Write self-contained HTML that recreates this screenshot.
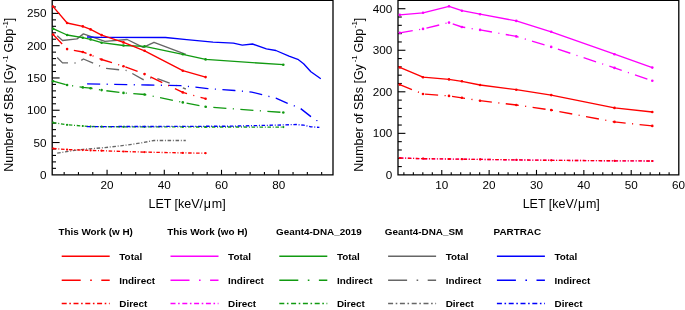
<!DOCTYPE html><html><head><meta charset="utf-8"><style>html,body{margin:0;padding:0;background:#fff;overflow:hidden}svg{display:block;filter:grayscale(0.01)}</style></head><body><svg width="685" height="310" viewBox="0 0 685 310">
<style>text{font-family:"Liberation Sans",sans-serif;fill:#000}.tl{font-size:11.7px}.at{font-size:12.5px}.sup{font-size:7.8px}.lg{font-size:9.9px;font-weight:bold}</style>
<rect width="685" height="310" fill="#fff"/>
<defs><clipPath id="cl"><rect x="50.7" y="0.4" width="282.3" height="174.4"/></clipPath><clipPath id="cr"><rect x="396.5" y="0.4" width="282.29999999999995" height="174.5"/></clipPath></defs>
<path d="M52.2 174.8 V0.4 H333.0 V174.8 Z" fill="none" stroke="#000" stroke-width="1.3"/>
<path d="M398.0 174.9 V0.4 H678.8 V174.9 Z" fill="none" stroke="#000" stroke-width="1.3"/>
<text x="46.6" y="178.80" text-anchor="end" class="tl">0</text>
<line x1="52.2" y1="168.34" x2="56.00" y2="168.34" stroke="#000" stroke-width="1.1"/>
<line x1="52.2" y1="161.89" x2="56.00" y2="161.89" stroke="#000" stroke-width="1.1"/>
<line x1="52.2" y1="155.43" x2="56.00" y2="155.43" stroke="#000" stroke-width="1.1"/>
<line x1="52.2" y1="148.98" x2="56.00" y2="148.98" stroke="#000" stroke-width="1.1"/>
<line x1="52.2" y1="142.52" x2="59.60" y2="142.52" stroke="#000" stroke-width="1.1"/>
<text x="46.6" y="146.52" text-anchor="end" class="tl">50</text>
<line x1="52.2" y1="136.06" x2="56.00" y2="136.06" stroke="#000" stroke-width="1.1"/>
<line x1="52.2" y1="129.61" x2="56.00" y2="129.61" stroke="#000" stroke-width="1.1"/>
<line x1="52.2" y1="123.15" x2="56.00" y2="123.15" stroke="#000" stroke-width="1.1"/>
<line x1="52.2" y1="116.70" x2="56.00" y2="116.70" stroke="#000" stroke-width="1.1"/>
<line x1="52.2" y1="110.24" x2="59.60" y2="110.24" stroke="#000" stroke-width="1.1"/>
<text x="46.6" y="114.24" text-anchor="end" class="tl">100</text>
<line x1="52.2" y1="103.78" x2="56.00" y2="103.78" stroke="#000" stroke-width="1.1"/>
<line x1="52.2" y1="97.33" x2="56.00" y2="97.33" stroke="#000" stroke-width="1.1"/>
<line x1="52.2" y1="90.87" x2="56.00" y2="90.87" stroke="#000" stroke-width="1.1"/>
<line x1="52.2" y1="84.42" x2="56.00" y2="84.42" stroke="#000" stroke-width="1.1"/>
<line x1="52.2" y1="77.96" x2="59.60" y2="77.96" stroke="#000" stroke-width="1.1"/>
<text x="46.6" y="81.96" text-anchor="end" class="tl">150</text>
<line x1="52.2" y1="71.50" x2="56.00" y2="71.50" stroke="#000" stroke-width="1.1"/>
<line x1="52.2" y1="65.05" x2="56.00" y2="65.05" stroke="#000" stroke-width="1.1"/>
<line x1="52.2" y1="58.59" x2="56.00" y2="58.59" stroke="#000" stroke-width="1.1"/>
<line x1="52.2" y1="52.14" x2="56.00" y2="52.14" stroke="#000" stroke-width="1.1"/>
<line x1="52.2" y1="45.68" x2="59.60" y2="45.68" stroke="#000" stroke-width="1.1"/>
<text x="46.6" y="49.68" text-anchor="end" class="tl">200</text>
<line x1="52.2" y1="39.22" x2="56.00" y2="39.22" stroke="#000" stroke-width="1.1"/>
<line x1="52.2" y1="32.77" x2="56.00" y2="32.77" stroke="#000" stroke-width="1.1"/>
<line x1="52.2" y1="26.31" x2="56.00" y2="26.31" stroke="#000" stroke-width="1.1"/>
<line x1="52.2" y1="19.86" x2="56.00" y2="19.86" stroke="#000" stroke-width="1.1"/>
<line x1="52.2" y1="13.40" x2="59.60" y2="13.40" stroke="#000" stroke-width="1.1"/>
<text x="46.6" y="17.40" text-anchor="end" class="tl">250</text>
<line x1="52.2" y1="6.94" x2="56.00" y2="6.94" stroke="#000" stroke-width="1.1"/>
<line x1="52.2" y1="0.49" x2="56.00" y2="0.49" stroke="#000" stroke-width="1.1"/>
<text x="392.2" y="178.90" text-anchor="end" class="tl">0</text>
<line x1="398.0" y1="166.59" x2="401.80" y2="166.59" stroke="#000" stroke-width="1.1"/>
<line x1="398.0" y1="158.28" x2="401.80" y2="158.28" stroke="#000" stroke-width="1.1"/>
<line x1="398.0" y1="149.97" x2="401.80" y2="149.97" stroke="#000" stroke-width="1.1"/>
<line x1="398.0" y1="141.66" x2="401.80" y2="141.66" stroke="#000" stroke-width="1.1"/>
<line x1="398.0" y1="133.35" x2="405.40" y2="133.35" stroke="#000" stroke-width="1.1"/>
<text x="392.2" y="137.35" text-anchor="end" class="tl">100</text>
<line x1="398.0" y1="125.04" x2="401.80" y2="125.04" stroke="#000" stroke-width="1.1"/>
<line x1="398.0" y1="116.73" x2="401.80" y2="116.73" stroke="#000" stroke-width="1.1"/>
<line x1="398.0" y1="108.42" x2="401.80" y2="108.42" stroke="#000" stroke-width="1.1"/>
<line x1="398.0" y1="100.11" x2="401.80" y2="100.11" stroke="#000" stroke-width="1.1"/>
<line x1="398.0" y1="91.80" x2="405.40" y2="91.80" stroke="#000" stroke-width="1.1"/>
<text x="392.2" y="95.80" text-anchor="end" class="tl">200</text>
<line x1="398.0" y1="83.49" x2="401.80" y2="83.49" stroke="#000" stroke-width="1.1"/>
<line x1="398.0" y1="75.18" x2="401.80" y2="75.18" stroke="#000" stroke-width="1.1"/>
<line x1="398.0" y1="66.88" x2="401.80" y2="66.88" stroke="#000" stroke-width="1.1"/>
<line x1="398.0" y1="58.57" x2="401.80" y2="58.57" stroke="#000" stroke-width="1.1"/>
<line x1="398.0" y1="50.26" x2="405.40" y2="50.26" stroke="#000" stroke-width="1.1"/>
<text x="392.2" y="54.26" text-anchor="end" class="tl">300</text>
<line x1="398.0" y1="41.95" x2="401.80" y2="41.95" stroke="#000" stroke-width="1.1"/>
<line x1="398.0" y1="33.64" x2="401.80" y2="33.64" stroke="#000" stroke-width="1.1"/>
<line x1="398.0" y1="25.33" x2="401.80" y2="25.33" stroke="#000" stroke-width="1.1"/>
<line x1="398.0" y1="17.02" x2="401.80" y2="17.02" stroke="#000" stroke-width="1.1"/>
<line x1="398.0" y1="8.71" x2="405.40" y2="8.71" stroke="#000" stroke-width="1.1"/>
<text x="392.2" y="12.71" text-anchor="end" class="tl">400</text>
<line x1="398.0" y1="0.40" x2="401.80" y2="0.40" stroke="#000" stroke-width="1.1"/>
<line x1="64.16" y1="174.8" x2="64.16" y2="172.10" stroke="#000" stroke-width="1.1"/>
<line x1="78.46" y1="174.8" x2="78.46" y2="172.10" stroke="#000" stroke-width="1.1"/>
<line x1="92.77" y1="174.8" x2="92.77" y2="172.10" stroke="#000" stroke-width="1.1"/>
<line x1="107.07" y1="174.8" x2="107.07" y2="169.80" stroke="#000" stroke-width="1.1"/>
<text x="107.07" y="188.8" text-anchor="middle" class="tl">20</text>
<line x1="121.38" y1="174.8" x2="121.38" y2="172.10" stroke="#000" stroke-width="1.1"/>
<line x1="135.68" y1="174.8" x2="135.68" y2="172.10" stroke="#000" stroke-width="1.1"/>
<line x1="149.99" y1="174.8" x2="149.99" y2="172.10" stroke="#000" stroke-width="1.1"/>
<line x1="164.29" y1="174.8" x2="164.29" y2="169.80" stroke="#000" stroke-width="1.1"/>
<text x="164.29" y="188.8" text-anchor="middle" class="tl">40</text>
<line x1="178.59" y1="174.8" x2="178.59" y2="172.10" stroke="#000" stroke-width="1.1"/>
<line x1="192.90" y1="174.8" x2="192.90" y2="172.10" stroke="#000" stroke-width="1.1"/>
<line x1="207.21" y1="174.8" x2="207.21" y2="172.10" stroke="#000" stroke-width="1.1"/>
<line x1="221.51" y1="174.8" x2="221.51" y2="169.80" stroke="#000" stroke-width="1.1"/>
<text x="221.51" y="188.8" text-anchor="middle" class="tl">60</text>
<line x1="235.81" y1="174.8" x2="235.81" y2="172.10" stroke="#000" stroke-width="1.1"/>
<line x1="250.12" y1="174.8" x2="250.12" y2="172.10" stroke="#000" stroke-width="1.1"/>
<line x1="264.43" y1="174.8" x2="264.43" y2="172.10" stroke="#000" stroke-width="1.1"/>
<line x1="278.73" y1="174.8" x2="278.73" y2="169.80" stroke="#000" stroke-width="1.1"/>
<text x="278.73" y="188.8" text-anchor="middle" class="tl">80</text>
<line x1="293.04" y1="174.8" x2="293.04" y2="172.10" stroke="#000" stroke-width="1.1"/>
<line x1="307.34" y1="174.8" x2="307.34" y2="172.10" stroke="#000" stroke-width="1.1"/>
<line x1="321.65" y1="174.8" x2="321.65" y2="172.10" stroke="#000" stroke-width="1.1"/>
<line x1="403.88" y1="174.9" x2="403.88" y2="172.20" stroke="#000" stroke-width="1.1"/>
<line x1="413.35" y1="174.9" x2="413.35" y2="172.20" stroke="#000" stroke-width="1.1"/>
<line x1="422.83" y1="174.9" x2="422.83" y2="172.20" stroke="#000" stroke-width="1.1"/>
<line x1="432.30" y1="174.9" x2="432.30" y2="172.20" stroke="#000" stroke-width="1.1"/>
<line x1="441.77" y1="174.9" x2="441.77" y2="169.90" stroke="#000" stroke-width="1.1"/>
<text x="441.77" y="188.8" text-anchor="middle" class="tl">10</text>
<line x1="451.24" y1="174.9" x2="451.24" y2="172.20" stroke="#000" stroke-width="1.1"/>
<line x1="460.71" y1="174.9" x2="460.71" y2="172.20" stroke="#000" stroke-width="1.1"/>
<line x1="470.19" y1="174.9" x2="470.19" y2="172.20" stroke="#000" stroke-width="1.1"/>
<line x1="479.66" y1="174.9" x2="479.66" y2="172.20" stroke="#000" stroke-width="1.1"/>
<line x1="489.13" y1="174.9" x2="489.13" y2="169.90" stroke="#000" stroke-width="1.1"/>
<text x="489.13" y="188.8" text-anchor="middle" class="tl">20</text>
<line x1="498.60" y1="174.9" x2="498.60" y2="172.20" stroke="#000" stroke-width="1.1"/>
<line x1="508.07" y1="174.9" x2="508.07" y2="172.20" stroke="#000" stroke-width="1.1"/>
<line x1="517.55" y1="174.9" x2="517.55" y2="172.20" stroke="#000" stroke-width="1.1"/>
<line x1="527.02" y1="174.9" x2="527.02" y2="172.20" stroke="#000" stroke-width="1.1"/>
<line x1="536.49" y1="174.9" x2="536.49" y2="169.90" stroke="#000" stroke-width="1.1"/>
<text x="536.49" y="188.8" text-anchor="middle" class="tl">30</text>
<line x1="545.96" y1="174.9" x2="545.96" y2="172.20" stroke="#000" stroke-width="1.1"/>
<line x1="555.43" y1="174.9" x2="555.43" y2="172.20" stroke="#000" stroke-width="1.1"/>
<line x1="564.91" y1="174.9" x2="564.91" y2="172.20" stroke="#000" stroke-width="1.1"/>
<line x1="574.38" y1="174.9" x2="574.38" y2="172.20" stroke="#000" stroke-width="1.1"/>
<line x1="583.85" y1="174.9" x2="583.85" y2="169.90" stroke="#000" stroke-width="1.1"/>
<text x="583.85" y="188.8" text-anchor="middle" class="tl">40</text>
<line x1="593.32" y1="174.9" x2="593.32" y2="172.20" stroke="#000" stroke-width="1.1"/>
<line x1="602.79" y1="174.9" x2="602.79" y2="172.20" stroke="#000" stroke-width="1.1"/>
<line x1="612.27" y1="174.9" x2="612.27" y2="172.20" stroke="#000" stroke-width="1.1"/>
<line x1="621.74" y1="174.9" x2="621.74" y2="172.20" stroke="#000" stroke-width="1.1"/>
<line x1="631.21" y1="174.9" x2="631.21" y2="169.90" stroke="#000" stroke-width="1.1"/>
<text x="631.21" y="188.8" text-anchor="middle" class="tl">50</text>
<line x1="640.68" y1="174.9" x2="640.68" y2="172.20" stroke="#000" stroke-width="1.1"/>
<line x1="650.15" y1="174.9" x2="650.15" y2="172.20" stroke="#000" stroke-width="1.1"/>
<line x1="659.63" y1="174.9" x2="659.63" y2="172.20" stroke="#000" stroke-width="1.1"/>
<line x1="669.10" y1="174.9" x2="669.10" y2="172.20" stroke="#000" stroke-width="1.1"/>
<text x="678.57" y="188.8" text-anchor="middle" class="tl">60</text>
<g clip-path="url(#cl)">
<polyline points="57.2,153.1 62.5,152.3 77.0,150.0 83.4,149.3 104.9,147.6 127.2,145.0 143.2,142.6 154.0,140.5 185.8,140.5" fill="none" stroke="#666666" stroke-width="1.35" stroke-dasharray="3.5 1.75 0.95 1.75" stroke-linejoin="round"/>
<polyline points="57.2,57.5 62.5,62.9 77.0,63.0 83.4,59.0 104.9,68.2 127.2,70.6 143.2,79.6 154.0,77.4 185.8,89.0" fill="none" stroke="#666666" stroke-width="1.35" stroke-dasharray="13.1 6.45 1.1 6.45" stroke-linejoin="round"/>
<polyline points="57.2,35.8 62.5,40.5 77.0,38.9 83.4,33.9 104.9,41.4 127.2,39.5 143.2,47.4 154.0,42.3 185.8,54.3" fill="none" stroke="#666666" stroke-width="1.35" stroke-linejoin="round"/>
<polyline points="53.1,122.6 67.1,124.8 82.8,126.0 90.6,126.5 101.6,126.7 123.5,126.8 144.6,126.8 182.8,126.9 205.6,127.0 283.3,127.1" fill="none" stroke="#109a10" stroke-width="1.35" stroke-dasharray="3.5 1.75 0.95 1.75" stroke-linejoin="round"/>
<circle cx="53.1" cy="122.6" r="1.1" fill="#109a10"/>
<circle cx="67.1" cy="124.8" r="1.1" fill="#109a10"/>
<circle cx="82.8" cy="126.0" r="1.1" fill="#109a10"/>
<circle cx="90.6" cy="126.5" r="1.1" fill="#109a10"/>
<circle cx="101.6" cy="126.7" r="1.1" fill="#109a10"/>
<circle cx="123.5" cy="126.8" r="1.1" fill="#109a10"/>
<circle cx="144.6" cy="126.8" r="1.1" fill="#109a10"/>
<circle cx="182.8" cy="126.9" r="1.1" fill="#109a10"/>
<circle cx="205.6" cy="127.0" r="1.1" fill="#109a10"/>
<circle cx="283.3" cy="127.1" r="1.1" fill="#109a10"/>
<polyline points="53.1,81.2 67.1,85.0 82.8,87.4 90.6,88.2 101.6,90.1 123.5,92.9 144.6,94.5 182.8,102.4 205.6,106.8 283.3,112.5" fill="none" stroke="#109a10" stroke-width="1.35" stroke-dasharray="13.1 6.45 1.1 6.45" stroke-linejoin="round"/>
<circle cx="53.1" cy="81.2" r="1.3" fill="#109a10"/>
<circle cx="67.1" cy="85.0" r="1.3" fill="#109a10"/>
<circle cx="82.8" cy="87.4" r="1.3" fill="#109a10"/>
<circle cx="90.6" cy="88.2" r="1.3" fill="#109a10"/>
<circle cx="101.6" cy="90.1" r="1.3" fill="#109a10"/>
<circle cx="123.5" cy="92.9" r="1.3" fill="#109a10"/>
<circle cx="144.6" cy="94.5" r="1.3" fill="#109a10"/>
<circle cx="182.8" cy="102.4" r="1.3" fill="#109a10"/>
<circle cx="205.6" cy="106.8" r="1.3" fill="#109a10"/>
<circle cx="283.3" cy="112.5" r="1.3" fill="#109a10"/>
<polyline points="53.1,28.7 67.1,35.0 82.8,37.7 90.6,39.4 101.6,42.7 123.5,45.5 144.6,46.4 182.8,54.3 205.6,59.4 283.3,64.7" fill="none" stroke="#109a10" stroke-width="1.35" stroke-linejoin="round"/>
<circle cx="53.1" cy="28.7" r="1.3" fill="#109a10"/>
<circle cx="67.1" cy="35.0" r="1.3" fill="#109a10"/>
<circle cx="82.8" cy="37.7" r="1.3" fill="#109a10"/>
<circle cx="90.6" cy="39.4" r="1.3" fill="#109a10"/>
<circle cx="101.6" cy="42.7" r="1.3" fill="#109a10"/>
<circle cx="123.5" cy="45.5" r="1.3" fill="#109a10"/>
<circle cx="144.6" cy="46.4" r="1.3" fill="#109a10"/>
<circle cx="182.8" cy="54.3" r="1.3" fill="#109a10"/>
<circle cx="205.6" cy="59.4" r="1.3" fill="#109a10"/>
<circle cx="283.3" cy="64.7" r="1.3" fill="#109a10"/>
<polyline points="86.7,126.6 150.0,126.5 230.0,126.2 284.6,124.9 296.3,124.5 303.6,125.2 310.9,126.8 319.4,127.4" fill="none" stroke="#0000ff" stroke-width="1.35" stroke-dasharray="3.5 1.75 0.95 1.75" stroke-linejoin="round"/>
<polyline points="87.1,83.9 148.0,85.0 180.9,85.7 195.5,87.1 207.9,88.6 234.9,90.5 251.8,92.1 262.0,94.6 275.9,98.2 287.6,103.4 293.4,105.5 300.7,108.6 310.9,116.6 316.5,120.3 320.8,122.5" fill="none" stroke="#0000ff" stroke-width="1.35" stroke-dasharray="13.1 6.45 1.1 6.45" stroke-linejoin="round"/>
<polyline points="87.0,37.0 100.0,37.4 165.5,37.5 186.7,39.7 213.0,42.2 233.4,43.1 242.3,45.1 252.5,44.0 266.4,48.8 275.9,50.5 289.0,56.1 297.8,59.3 303.6,63.7 310.9,71.7 320.8,78.7" fill="none" stroke="#0000ff" stroke-width="1.35" stroke-linejoin="round"/>
<polyline points="53.1,148.5 67.1,149.6 82.8,150.1 90.6,150.4 101.6,150.7 123.5,151.5 144.6,152.1 182.8,152.9 205.6,153.2" fill="none" stroke="#ff0000" stroke-width="1.35" stroke-dasharray="3.5 1.75 0.95 1.75" stroke-linejoin="round"/>
<circle cx="53.1" cy="148.5" r="1.1" fill="#ff0000"/>
<circle cx="67.1" cy="149.6" r="1.1" fill="#ff0000"/>
<circle cx="82.8" cy="150.1" r="1.1" fill="#ff0000"/>
<circle cx="90.6" cy="150.4" r="1.1" fill="#ff0000"/>
<circle cx="101.6" cy="150.7" r="1.1" fill="#ff0000"/>
<circle cx="123.5" cy="151.5" r="1.1" fill="#ff0000"/>
<circle cx="144.6" cy="152.1" r="1.1" fill="#ff0000"/>
<circle cx="182.8" cy="152.9" r="1.1" fill="#ff0000"/>
<circle cx="205.6" cy="153.2" r="1.1" fill="#ff0000"/>
<polyline points="53.1,34.5 67.1,49.1 82.8,52.0 90.6,55.0 101.6,59.5 123.5,66.2 144.6,74.1 182.8,92.4 205.6,98.7" fill="none" stroke="#ff0000" stroke-width="1.35" stroke-dasharray="13.1 6.45 1.1 6.45" stroke-linejoin="round"/>
<circle cx="53.1" cy="34.5" r="1.3" fill="#ff0000"/>
<circle cx="67.1" cy="49.1" r="1.3" fill="#ff0000"/>
<circle cx="82.8" cy="52.0" r="1.3" fill="#ff0000"/>
<circle cx="90.6" cy="55.0" r="1.3" fill="#ff0000"/>
<circle cx="101.6" cy="59.5" r="1.3" fill="#ff0000"/>
<circle cx="123.5" cy="66.2" r="1.3" fill="#ff0000"/>
<circle cx="144.6" cy="74.1" r="1.3" fill="#ff0000"/>
<circle cx="182.8" cy="92.4" r="1.3" fill="#ff0000"/>
<circle cx="205.6" cy="98.7" r="1.3" fill="#ff0000"/>
<polyline points="53.1,6.6 67.1,23.0 82.8,26.4 90.6,29.4 101.6,35.1 123.5,42.4 144.6,50.8 182.8,70.7 205.6,77.1" fill="none" stroke="#ff0000" stroke-width="1.35" stroke-linejoin="round"/>
<circle cx="53.1" cy="6.6" r="1.3" fill="#ff0000"/>
<circle cx="67.1" cy="23.0" r="1.3" fill="#ff0000"/>
<circle cx="82.8" cy="26.4" r="1.3" fill="#ff0000"/>
<circle cx="90.6" cy="29.4" r="1.3" fill="#ff0000"/>
<circle cx="101.6" cy="35.1" r="1.3" fill="#ff0000"/>
<circle cx="123.5" cy="42.4" r="1.3" fill="#ff0000"/>
<circle cx="144.6" cy="50.8" r="1.3" fill="#ff0000"/>
<circle cx="182.8" cy="70.7" r="1.3" fill="#ff0000"/>
<circle cx="205.6" cy="77.1" r="1.3" fill="#ff0000"/>
</g>
<g clip-path="url(#cr)">
<polyline points="400.1,158.0 423.3,158.7 449.3,159.0 462.2,159.2 480.4,159.4 516.6,159.9 551.5,160.3 614.8,160.8 652.6,161.0" fill="none" stroke="#ff00ff" stroke-width="1.35" stroke-dasharray="3.5 1.75 0.95 1.75" stroke-linejoin="round"/>
<circle cx="400.1" cy="158.0" r="1.1" fill="#ff00ff"/>
<circle cx="423.3" cy="158.7" r="1.1" fill="#ff00ff"/>
<circle cx="449.3" cy="159.0" r="1.1" fill="#ff00ff"/>
<circle cx="462.2" cy="159.2" r="1.1" fill="#ff00ff"/>
<circle cx="480.4" cy="159.4" r="1.1" fill="#ff00ff"/>
<circle cx="516.6" cy="159.9" r="1.1" fill="#ff00ff"/>
<circle cx="551.5" cy="160.3" r="1.1" fill="#ff00ff"/>
<circle cx="614.8" cy="160.8" r="1.1" fill="#ff00ff"/>
<circle cx="652.6" cy="161.0" r="1.1" fill="#ff00ff"/>
<polyline points="399.8,32.8 423.0,28.9 449.0,22.6 461.9,27.0 480.1,29.9 516.3,36.4 551.2,46.9 614.5,67.9 652.3,80.8" fill="none" stroke="#ff00ff" stroke-width="1.35" stroke-dasharray="13.1 6.45 1.1 6.45" stroke-linejoin="round"/>
<circle cx="399.8" cy="32.8" r="1.3" fill="#ff00ff"/>
<circle cx="423.0" cy="28.9" r="1.3" fill="#ff00ff"/>
<circle cx="449.0" cy="22.6" r="1.3" fill="#ff00ff"/>
<circle cx="461.9" cy="27.0" r="1.3" fill="#ff00ff"/>
<circle cx="480.1" cy="29.9" r="1.3" fill="#ff00ff"/>
<circle cx="516.3" cy="36.4" r="1.3" fill="#ff00ff"/>
<circle cx="551.2" cy="46.9" r="1.3" fill="#ff00ff"/>
<circle cx="614.5" cy="67.9" r="1.3" fill="#ff00ff"/>
<circle cx="652.3" cy="80.8" r="1.3" fill="#ff00ff"/>
<polyline points="399.8,14.9 423.0,12.8 449.0,6.3 461.9,10.7 480.1,14.2 516.3,20.9 551.2,31.8 614.5,54.2 652.3,67.6" fill="none" stroke="#ff00ff" stroke-width="1.35" stroke-linejoin="round"/>
<circle cx="399.8" cy="14.9" r="1.3" fill="#ff00ff"/>
<circle cx="423.0" cy="12.8" r="1.3" fill="#ff00ff"/>
<circle cx="449.0" cy="6.3" r="1.3" fill="#ff00ff"/>
<circle cx="461.9" cy="10.7" r="1.3" fill="#ff00ff"/>
<circle cx="480.1" cy="14.2" r="1.3" fill="#ff00ff"/>
<circle cx="516.3" cy="20.9" r="1.3" fill="#ff00ff"/>
<circle cx="551.2" cy="31.8" r="1.3" fill="#ff00ff"/>
<circle cx="614.5" cy="54.2" r="1.3" fill="#ff00ff"/>
<circle cx="652.3" cy="67.6" r="1.3" fill="#ff00ff"/>
<polyline points="399.8,158.0 423.0,158.7 449.0,159.0 461.9,159.2 480.1,159.4 516.3,159.9 551.2,160.3 614.5,160.8 652.3,161.0" fill="none" stroke="#ff0000" stroke-width="1.35" stroke-dasharray="3.5 1.75 0.95 1.75" stroke-linejoin="round"/>
<circle cx="399.8" cy="158.0" r="1.1" fill="#ff0000"/>
<circle cx="423.0" cy="158.7" r="1.1" fill="#ff0000"/>
<circle cx="449.0" cy="159.0" r="1.1" fill="#ff0000"/>
<circle cx="461.9" cy="159.2" r="1.1" fill="#ff0000"/>
<circle cx="480.1" cy="159.4" r="1.1" fill="#ff0000"/>
<circle cx="516.3" cy="159.9" r="1.1" fill="#ff0000"/>
<circle cx="551.2" cy="160.3" r="1.1" fill="#ff0000"/>
<circle cx="614.5" cy="160.8" r="1.1" fill="#ff0000"/>
<circle cx="652.3" cy="161.0" r="1.1" fill="#ff0000"/>
<polyline points="399.8,84.6 423.0,94.0 449.0,95.9 461.9,97.8 480.1,100.7 516.3,105.0 551.2,110.1 614.5,121.9 652.3,125.9" fill="none" stroke="#ff0000" stroke-width="1.35" stroke-dasharray="13.1 6.45 1.1 6.45" stroke-linejoin="round"/>
<circle cx="399.8" cy="84.6" r="1.3" fill="#ff0000"/>
<circle cx="423.0" cy="94.0" r="1.3" fill="#ff0000"/>
<circle cx="449.0" cy="95.9" r="1.3" fill="#ff0000"/>
<circle cx="461.9" cy="97.8" r="1.3" fill="#ff0000"/>
<circle cx="480.1" cy="100.7" r="1.3" fill="#ff0000"/>
<circle cx="516.3" cy="105.0" r="1.3" fill="#ff0000"/>
<circle cx="551.2" cy="110.1" r="1.3" fill="#ff0000"/>
<circle cx="614.5" cy="121.9" r="1.3" fill="#ff0000"/>
<circle cx="652.3" cy="125.9" r="1.3" fill="#ff0000"/>
<polyline points="399.8,67.4 423.0,77.2 449.0,79.4 461.9,81.3 480.1,85.0 516.3,89.7 551.2,95.1 614.5,107.9 652.3,112.0" fill="none" stroke="#ff0000" stroke-width="1.35" stroke-linejoin="round"/>
<circle cx="399.8" cy="67.4" r="1.3" fill="#ff0000"/>
<circle cx="423.0" cy="77.2" r="1.3" fill="#ff0000"/>
<circle cx="449.0" cy="79.4" r="1.3" fill="#ff0000"/>
<circle cx="461.9" cy="81.3" r="1.3" fill="#ff0000"/>
<circle cx="480.1" cy="85.0" r="1.3" fill="#ff0000"/>
<circle cx="516.3" cy="89.7" r="1.3" fill="#ff0000"/>
<circle cx="551.2" cy="95.1" r="1.3" fill="#ff0000"/>
<circle cx="614.5" cy="107.9" r="1.3" fill="#ff0000"/>
<circle cx="652.3" cy="112.0" r="1.3" fill="#ff0000"/>
</g>
<text x="148.45" y="208.3" class="at">LET [keV/<tspan dx="0.7">μ</tspan><tspan dx="0.7">m]</tspan></text>
<text x="522.65" y="208.3" class="at">LET [keV/<tspan dx="0.7">μ</tspan><tspan dx="0.7">m]</tspan></text>
<text transform="translate(13.4,171.8) rotate(-90)" class="at">Number of SBs [Gy<tspan class="sup" dx="1.8" dy="-5.6">-1</tspan><tspan dx="-0.6" dy="5.6"> Gbp</tspan><tspan class="sup" dx="0.8" dy="-5.6">-1</tspan><tspan dx="-0.2" dy="5.6">]</tspan></text>
<text transform="translate(363.0,171.8) rotate(-90)" class="at">Number of SBs [Gy<tspan class="sup" dx="1.8" dy="-5.6">-1</tspan><tspan dx="-0.6" dy="5.6"> Gbp</tspan><tspan class="sup" dx="0.8" dy="-5.6">-1</tspan><tspan dx="-0.2" dy="5.6">]</tspan></text>
<text x="58.4" y="235.4" class="lg">This Work (w H)</text>
<line x1="61.7" y1="256.3" x2="109.7" y2="256.3" stroke="#ff0000" stroke-width="1.6"/>
<text x="119.3" y="260.1" class="lg">Total</text>
<line x1="61.7" y1="280.2" x2="109.7" y2="280.2" stroke="#ff0000" stroke-width="1.6" stroke-dasharray="19 9.5 1.6 9.5"/>
<text x="119.3" y="284.0" class="lg">Indirect</text>
<line x1="61.7" y1="303.5" x2="109.7" y2="303.5" stroke="#ff0000" stroke-width="1.6" stroke-dasharray="5 2.6 1.6 2.6"/>
<text x="119.3" y="307.3" class="lg">Direct</text>
<text x="167.2" y="235.4" class="lg">This Work (wo H)</text>
<line x1="170.5" y1="256.3" x2="218.5" y2="256.3" stroke="#ff00ff" stroke-width="1.6"/>
<text x="228.1" y="260.1" class="lg">Total</text>
<line x1="170.5" y1="280.2" x2="218.5" y2="280.2" stroke="#ff00ff" stroke-width="1.6" stroke-dasharray="19 9.5 1.6 9.5"/>
<text x="228.1" y="284.0" class="lg">Indirect</text>
<line x1="170.5" y1="303.5" x2="218.5" y2="303.5" stroke="#ff00ff" stroke-width="1.6" stroke-dasharray="5 2.6 1.6 2.6"/>
<text x="228.1" y="307.3" class="lg">Direct</text>
<text x="276.0" y="235.4" class="lg">Geant4-DNA_2019</text>
<line x1="279.3" y1="256.3" x2="327.3" y2="256.3" stroke="#109a10" stroke-width="1.6"/>
<text x="336.9" y="260.1" class="lg">Total</text>
<line x1="279.3" y1="280.2" x2="327.3" y2="280.2" stroke="#109a10" stroke-width="1.6" stroke-dasharray="19 9.5 1.6 9.5"/>
<text x="336.9" y="284.0" class="lg">Indirect</text>
<line x1="279.3" y1="303.5" x2="327.3" y2="303.5" stroke="#109a10" stroke-width="1.6" stroke-dasharray="5 2.6 1.6 2.6"/>
<text x="336.9" y="307.3" class="lg">Direct</text>
<text x="384.8" y="235.4" class="lg">Geant4-DNA_SM</text>
<line x1="388.1" y1="256.3" x2="436.1" y2="256.3" stroke="#666666" stroke-width="1.6"/>
<text x="445.7" y="260.1" class="lg">Total</text>
<line x1="388.1" y1="280.2" x2="436.1" y2="280.2" stroke="#666666" stroke-width="1.6" stroke-dasharray="19 9.5 1.6 9.5"/>
<text x="445.7" y="284.0" class="lg">Indirect</text>
<line x1="388.1" y1="303.5" x2="436.1" y2="303.5" stroke="#666666" stroke-width="1.6" stroke-dasharray="5 2.6 1.6 2.6"/>
<text x="445.7" y="307.3" class="lg">Direct</text>
<text x="493.6" y="235.4" class="lg">PARTRAC</text>
<line x1="496.9" y1="256.3" x2="544.9" y2="256.3" stroke="#0000ff" stroke-width="1.6"/>
<text x="554.5" y="260.1" class="lg">Total</text>
<line x1="496.9" y1="280.2" x2="544.9" y2="280.2" stroke="#0000ff" stroke-width="1.6" stroke-dasharray="19 9.5 1.6 9.5"/>
<text x="554.5" y="284.0" class="lg">Indirect</text>
<line x1="496.9" y1="303.5" x2="544.9" y2="303.5" stroke="#0000ff" stroke-width="1.6" stroke-dasharray="5 2.6 1.6 2.6"/>
<text x="554.5" y="307.3" class="lg">Direct</text>
</svg></body></html>
